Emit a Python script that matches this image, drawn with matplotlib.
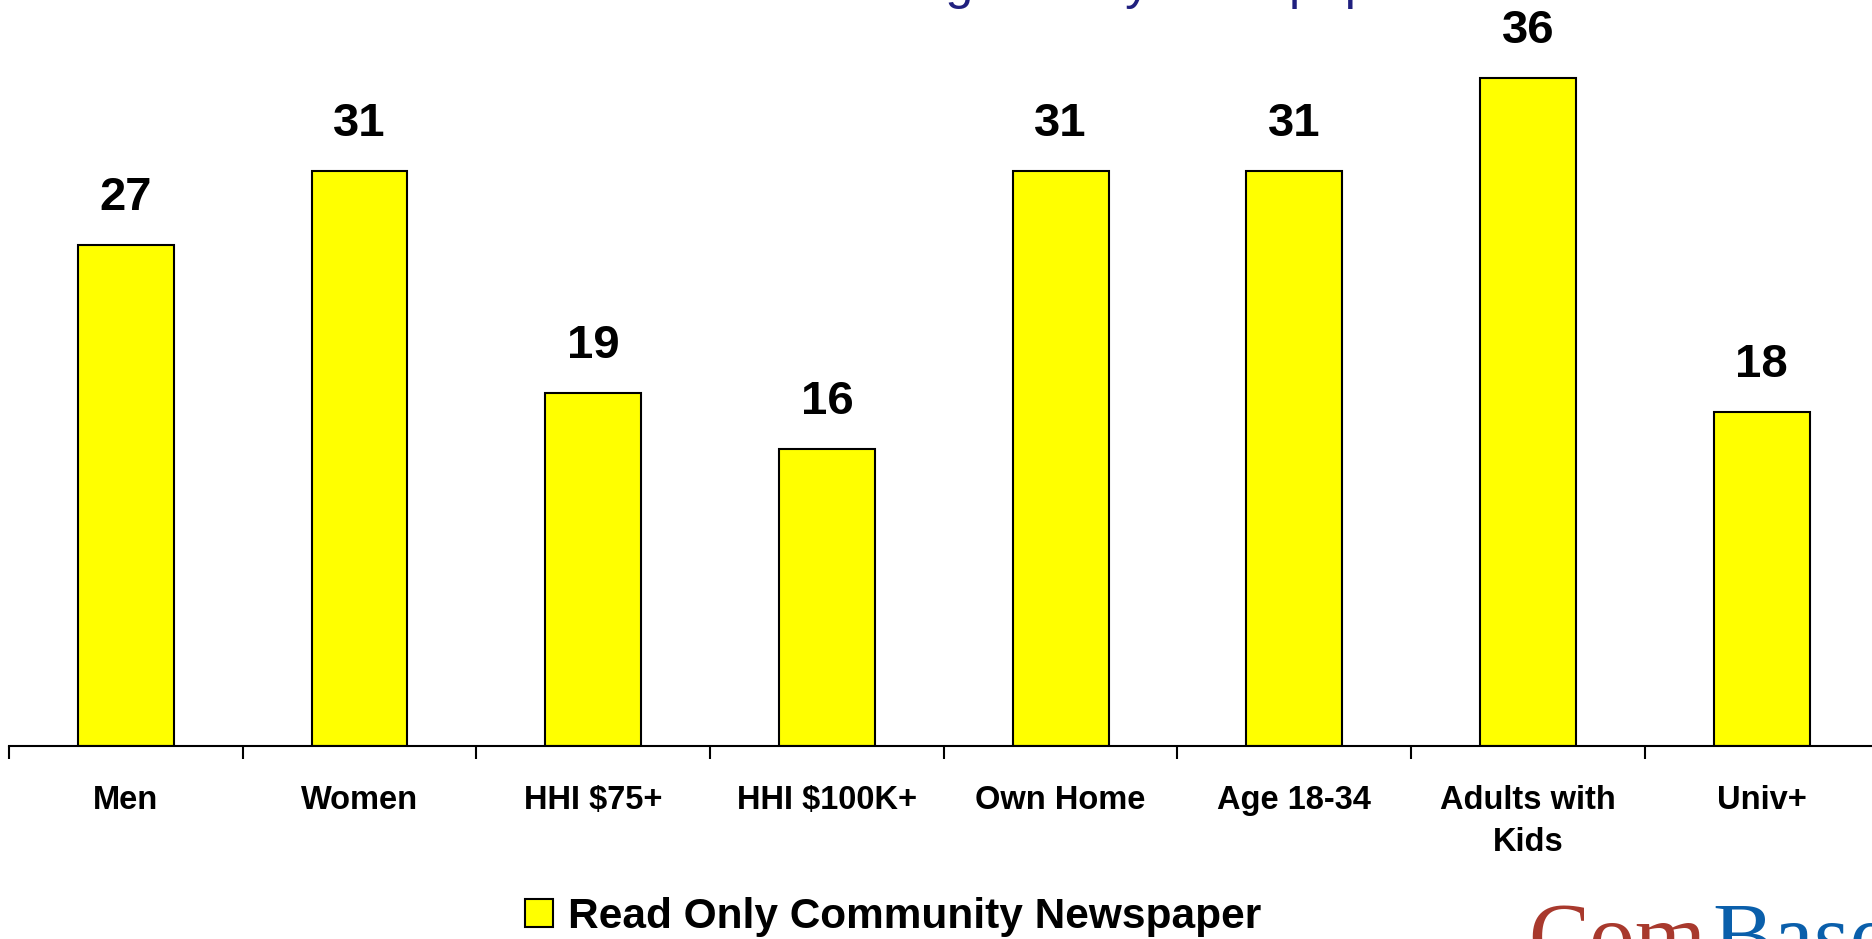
import matplotlib.pyplot as plt
from matplotlib.patches import Patch

plt.rcParams['font.family'] = ['Liberation Sans', 'DejaVu Sans']

# data
groups = ['Men', 'Women', 'HHI $75+', 'HHI $100K+', 'Own Home',
          'Age 18-34', 'Adults with\nKids', 'Univ+']
read_only_community = [27, 31, 19, 16, 31, 31, 36, 18]
series_name = 'Read Only Community Newspaper'

W, H = 1872, 939
fig = plt.figure(figsize=(W / 100, H / 100), dpi=100)

# axes run a little past the right edge, as in the slide
step = 233.7
ymax = 40
ax = fig.add_axes([9 / W, 193 / H, 8 * step / W, ymax * 18.56 / H])

x = range(len(groups))
ax.bar(x, read_only_community, width=0.41, color='#ffff00',
       edgecolor='black', linewidth=1.5, zorder=2)

for xi, v in zip(x, read_only_community):
    ax.annotate(str(v), (xi, v), xytext=(0, 18), textcoords='offset points',
                ha='center', va='bottom', fontsize=34, fontweight='bold')

ax.set_xlim(-0.5, len(groups) - 0.5)
ax.set_ylim(0, ymax)

# boundary ticks between groups, labels sit on minor ticks at the centres
ax.set_xticks([i - 0.5 for i in range(len(groups) + 1)])
ax.set_xticklabels([])
ax.set_xticks(list(x), minor=True)
ax.set_xticklabels(groups, minor=True, fontsize=23.5, fontweight='bold',
                   linespacing=1.45)
ax.tick_params(axis='x', which='major', length=9, width=1.5, direction='out')
ax.tick_params(axis='x', which='minor', length=0, pad=28)
ax.set_yticks([])

for s in ['top', 'right', 'left']:
    ax.spines[s].set_visible(False)
ax.spines['bottom'].set_linewidth(1.5)

# legend
handle = Patch(facecolor='#ffff00', edgecolor='black', linewidth=1.5)
fig.legend([handle], [series_name], loc='center left',
           bbox_to_anchor=(525 / W, 22 / H), frameon=False, borderpad=0,
           handlelength=0.66, handleheight=0.66, handletextpad=0.35,
           borderaxespad=0, prop={'size': 30.5, 'weight': 'bold'})

# title mostly above the page, only its descenders show
fig.text(1417 / W, 1 + 1 / H, 'Those Reading Weekly Newspaper', ha='right',
         va='baseline', fontsize=36, color='#20207f')

# logo text in the corner
fig.text(1528 / W, -27 / H, 'Com', fontsize=66, color='#a8392d',
         family='Liberation Serif', ha='left', va='baseline')
fig.text(1712 / W, -27 / H, 'Base', fontsize=66, color='#0a5fab',
         family='Liberation Serif', ha='left', va='baseline')

fig.savefig('out.png', dpi=100)
